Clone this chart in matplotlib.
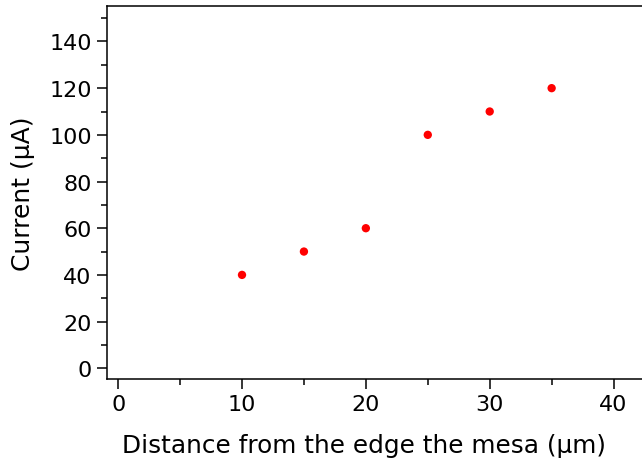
import matplotlib
matplotlib.use("Agg")
import matplotlib.pyplot as plt
from matplotlib.ticker import MultipleLocator

distance = [10, 15, 20, 25, 30, 35]
current = [40, 50, 60, 100, 110, 120]

plt.rcParams['font.family'] = ['DejaVu Sans']
fig = plt.figure(figsize=(6.42, 4.64), dpi=100)
ax = fig.add_axes([107/642, 84/464, 540/642, 373/464])
ax.scatter(distance, current, s=36, color='#ff0000', edgecolors='none', zorder=3)
ax.set_xlim(-0.9, 42.7)
ax.set_ylim(-4.6, 155.2)
ax.xaxis.set_major_locator(MultipleLocator(10))
ax.xaxis.set_minor_locator(MultipleLocator(5))
ax.yaxis.set_major_locator(MultipleLocator(20))
ax.yaxis.set_minor_locator(MultipleLocator(10))
ax.tick_params(which='major', direction='out', length=7, width=1.1, labelsize=16, pad=4)
ax.tick_params(which='minor', direction='out', length=4, width=1.1)
for s in ax.spines.values():
    s.set_linewidth(1.1)
ax.spines['right'].set_visible(False)
ax.set_xlabel('Distance from the edge the mesa (μm)', fontsize=17.8)
ax.xaxis.set_label_coords(0.476, -0.145)
ax.set_ylabel('Current (μA)', fontsize=18, labelpad=10)
fig.savefig('out.png', dpi=100)
